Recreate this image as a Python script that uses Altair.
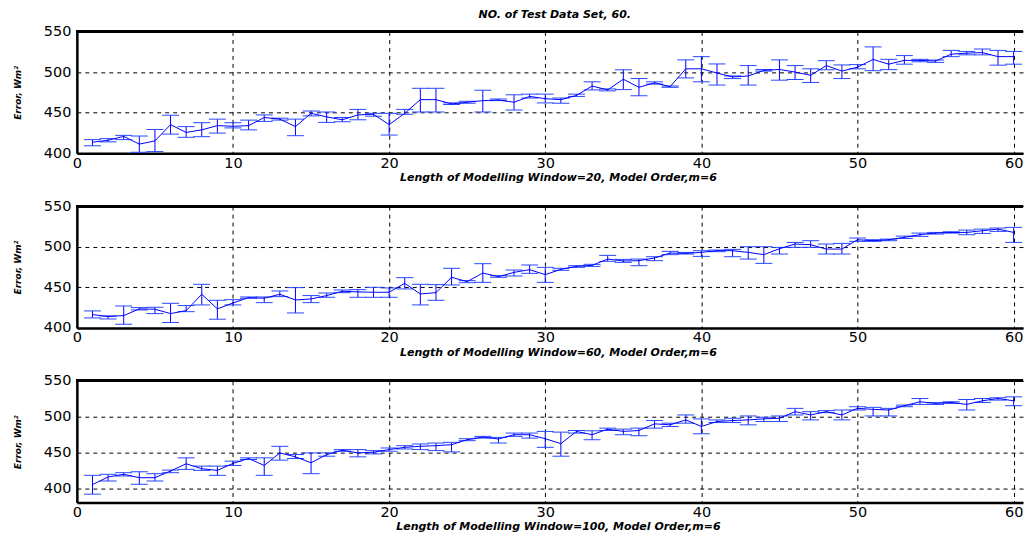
import altair as alt
import pandas as pd

x = list(range(1, 61))

# Panel 1: window = 20
m20 = [413.6, 416.0, 420.8, 411.2, 415.2, 435.2, 425.6, 428.8, 434.0, 433.2,
       434.0, 444.0, 442.0, 432.8, 449.2, 444.8, 441.2, 447.2, 448.0, 435.2,
       449.2, 466.0, 466.0, 460.8, 462.8, 464.8, 465.6, 462.8, 470.0, 467.2,
       466.0, 471.2, 482.8, 478.0, 491.2, 481.2, 486.8, 482.0, 504.0, 504.0,
       498.8, 494.0, 495.2, 502.0, 503.2, 500.0, 496.0, 508.0, 501.2, 506.0,
       515.6, 509.7, 514.4, 514.4, 513.6, 522.0, 523.3, 524.0, 519.0, 519.0]
hi20 = [416.8, 418.0, 422.0, 421.2, 429.2, 446.8, 432.8, 437.6, 442.0, 437.6,
        440.8, 447.2, 443.2, 442.0, 452.0, 450.8, 444.0, 454.0, 449.2, 449.2,
        454.0, 480.0, 480.0, 462.0, 464.0, 477.6, 466.8, 472.0, 472.8, 472.8,
        468.0, 472.8, 488.0, 479.2, 502.8, 492.0, 488.0, 482.8, 515.0, 519.0,
        510.0, 495.2, 508.0, 503.2, 515.0, 508.0, 504.0, 514.0, 508.8, 509.2,
        531.0, 515.7, 520.3, 515.7, 514.8, 526.7, 525.4, 528.4, 526.7, 525.4]
lo20 = [409.2, 414.0, 416.8, 401.2, 402.0, 423.6, 419.6, 420.4, 424.8, 431.2,
        428.8, 439.2, 440.8, 421.6, 446.0, 438.0, 438.8, 441.2, 445.6, 422.4,
        448.0, 450.8, 450.8, 460.0, 461.6, 450.8, 464.8, 453.2, 468.0, 462.0,
        461.6, 470.0, 478.0, 476.8, 478.4, 470.8, 485.2, 481.2, 492.8, 488.0,
        484.0, 492.0, 484.0, 501.2, 490.0, 490.8, 487.2, 502.8, 492.0, 504.0,
        501.7, 503.0, 509.7, 512.7, 511.9, 519.0, 521.2, 521.2, 508.5, 509.7]

# Panel 2: window = 60
m60 = [416.4, 413.9, 415.2, 423.4, 423.0, 417.6, 421.3, 441.4, 423.4, 430.7,
       437.3, 436.5, 441.4, 434.4, 435.7, 439.8, 445.1, 444.3, 443.9, 443.9,
       454.9, 441.8, 443.4, 462.3, 457.0, 467.6, 463.1, 468.4, 471.7, 465.6,
       472.1, 475.8, 477.0, 484.8, 482.4, 482.8, 486.1, 492.2, 491.8, 493.0,
       495.1, 495.1, 493.0, 490.2, 497.5, 503.3, 502.5, 497.1, 497.1, 508.6,
       507.4, 508.6, 511.5, 514.8, 516.8, 517.6, 517.6, 519.7, 521.7, 517.6]
hi60 = [420.9, 414.8, 427.0, 425.0, 425.4, 430.3, 427.5, 453.7, 434.0, 434.8,
        438.1, 438.1, 445.5, 449.6, 439.8, 443.0, 446.7, 447.1, 450.0, 449.2,
        461.9, 453.7, 453.3, 473.4, 458.2, 479.1, 464.3, 471.3, 477.5, 474.6,
        473.4, 476.6, 478.3, 489.3, 484.4, 484.8, 487.7, 494.3, 493.0, 495.1,
        495.9, 496.7, 500.0, 500.0, 499.2, 505.3, 507.4, 503.3, 504.1, 510.7,
        508.6, 509.4, 513.1, 516.8, 517.6, 518.4, 520.5, 521.7, 523.0, 523.8]
lo60 = [412.3, 411.0, 404.5, 422.1, 417.6, 406.6, 420.0, 428.3, 410.7, 428.3,
        436.5, 431.1, 438.5, 418.4, 431.1, 437.7, 443.4, 437.7, 437.7, 437.7,
        448.0, 428.3, 434.0, 452.9, 455.7, 456.1, 462.3, 463.9, 467.2, 456.1,
        470.9, 474.6, 475.8, 482.0, 480.7, 476.6, 482.8, 490.2, 491.0, 488.1,
        493.9, 487.7, 484.8, 479.5, 491.0, 499.2, 499.2, 491.0, 491.0, 506.6,
        506.6, 507.4, 510.2, 512.7, 515.6, 516.8, 514.8, 516.4, 518.9, 505.3]

# Panel 3: window = 100
m100 = [405.1, 415.7, 419.4, 414.7, 414.7, 424.0, 434.1, 427.2, 424.9, 434.6,
        441.5, 431.8, 449.3, 443.8, 435.5, 447.0, 453.0, 449.3, 450.2, 453.9,
        457.1, 458.5, 459.4, 460.8, 467.7, 471.4, 468.7, 474.7, 474.7, 469.1,
        462.2, 479.3, 474.7, 482.5, 479.3, 480.6, 489.9, 488.5, 495.4, 486.2,
        493.1, 494.5, 495.4, 496.8, 497.7, 506.9, 502.3, 506.9, 502.3, 511.5,
        510.1, 509.2, 515.2, 520.7, 518.4, 519.8, 517.0, 522.1, 525.3, 522.1]
hi100 = [418.0, 419.4, 421.7, 423.0, 420.3, 425.3, 442.4, 430.9, 430.9, 437.8,
         442.4, 442.4, 458.5, 447.0, 449.3, 449.3, 453.9, 453.9, 452.5, 456.2,
         459.4, 461.8, 463.1, 464.1, 469.1, 472.4, 471.0, 477.0, 477.0, 479.3,
         478.3, 480.6, 480.2, 483.9, 482.5, 483.9, 494.5, 490.8, 502.3, 496.8,
         495.4, 497.7, 500.9, 499.1, 500.9, 511.5, 506.9, 508.3, 509.2, 513.8,
         512.9, 511.5, 516.1, 525.3, 519.4, 520.7, 523.9, 525.3, 526.3, 527.6]
lo100 = [391.7, 410.1, 417.1, 405.5, 410.1, 421.7, 426.3, 424.9, 418.0, 431.8,
         440.1, 418.0, 439.2, 441.5, 420.3, 444.7, 451.6, 443.8, 447.9, 451.6,
         454.8, 453.9, 452.5, 450.7, 466.4, 470.0, 463.1, 472.4, 470.0, 457.1,
         444.7, 477.0, 467.7, 480.6, 474.7, 473.3, 483.9, 486.2, 490.8, 476.0,
         491.7, 491.7, 488.5, 493.1, 493.1, 502.3, 495.4, 505.5, 495.4, 509.2,
         500.9, 500.9, 513.8, 517.0, 517.0, 518.4, 509.2, 519.8, 523.0, 515.2]

x_ticks = [0, 10, 20, 30, 40, 50, 60]
y_ticks = [400, 450, 500, 550]
windows = [20, 60, 100]
y_mins = [400, 400, 380]
y_title = "Error, Wm²"
main_title = "NO. of Test Data Set, 60."

W = 948
H = 122
BLUE = "#0000ff"


def panel(mean, lo, hi, win, ymin):
    df = pd.DataFrame({"x": x, "m": mean, "lo": lo, "hi": hi})
    xtitle = f"Length of Modelling Window={win}, Model Order,m=6"
    xscale = alt.Scale(domain=[0, 60.6], nice=False, zero=False)
    yscale = alt.Scale(domain=[ymin, 550], nice=False, zero=False)
    xaxis = alt.Axis(values=x_ticks, title=xtitle, titleX=W / 2 + 8)
    yaxis = alt.Axis(values=y_ticks, title=y_title)

    def X():
        return alt.X("x:Q", scale=xscale, axis=xaxis)

    line = alt.Chart(df).mark_line(color=BLUE, strokeWidth=1).encode(
        x=X(), y=alt.Y("m:Q", scale=yscale, axis=yaxis))
    bars = alt.Chart(df).mark_rule(color=BLUE, strokeWidth=1).encode(
        x=X(), y=alt.Y("lo:Q", scale=yscale, axis=yaxis), y2="hi:Q")
    cap_hi = alt.Chart(df).mark_tick(orient="horizontal", size=17, thickness=1,
                                     color="#2648ff", opacity=1).encode(
        x=X(), y=alt.Y("hi:Q", scale=yscale, axis=yaxis))
    cap_lo = alt.Chart(df).mark_tick(orient="horizontal", size=17, thickness=1,
                                     color="#2648ff", opacity=1).encode(
        x=X(), y=alt.Y("lo:Q", scale=yscale, axis=yaxis))
    top = alt.Chart(df).mark_rule(color="black", strokeWidth=2.5).encode(
        x=alt.value(0), x2=alt.value(W), y=alt.value(0))
    return alt.layer(bars, cap_lo, cap_hi, line, top).properties(width=W, height=H)


panels = [
    panel(m20, lo20, hi20, windows[0], y_mins[0]),
    panel(m60, lo60, hi60, windows[1], y_mins[1]),
    panel(m100, lo100, hi100, windows[2], y_mins[2]),
]

chart = alt.vconcat(*panels, spacing=15).properties(
    title=alt.TitleParams(main_title, font="DejaVu Sans", fontSize=11,
                          fontStyle="italic", fontWeight="bold", color="black",
                          anchor="middle", offset=3, dx=36),
    padding={"left": 5, "top": 1, "right": 0, "bottom": 0},
).configure_view(stroke=None).configure_axis(
    labelFont="DejaVu Sans", labelFontSize=14.5, labelColor="black",
    domainColor="black", domainWidth=2.5, ticks=False,
    grid=True, gridColor="black", gridDash=[4, 4], gridOpacity=1, gridWidth=1,
    titleFont="DejaVu Sans", titleFontStyle="italic", titleFontWeight="bold",
    titleColor="black", labelFlush=False, labelOverlap=False,
).configure_axisX(
    labelPadding=3, titleFontSize=11, titlePadding=2,
).configure_axisY(
    labelPadding=6, titleFontSize=9, titlePadding=21,
)

chart.save("out.html", embed_options={"renderer": "svg", "actions": False})
